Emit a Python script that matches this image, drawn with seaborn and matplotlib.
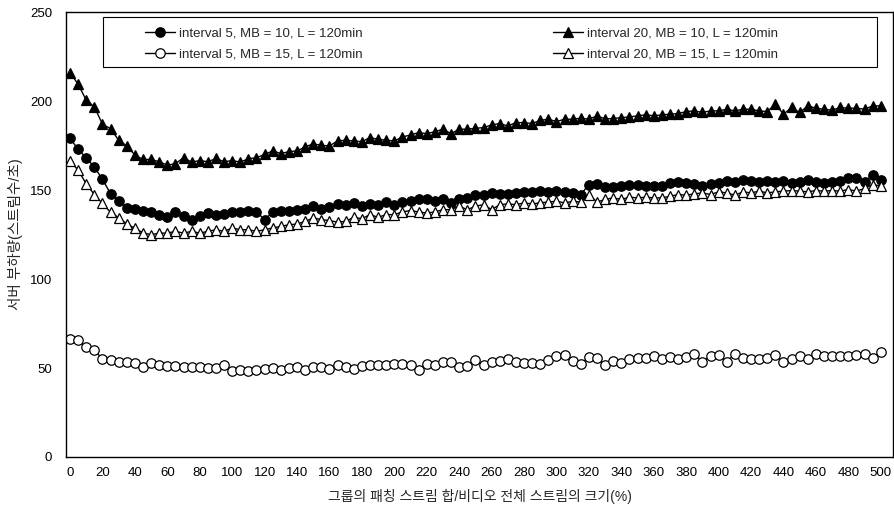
import numpy as np
import pandas as pd
import matplotlib
matplotlib.use("Agg")
import matplotlib.pyplot as plt
from matplotlib.patches import Rectangle
import seaborn as sns

# x axis: size of patching streams / whole video stream (%), one point every 5
x_pct = np.arange(0, 501, 5)

# interval 5, MB = 10, L = 120min (filled circles)
int5_mb10 = [179, 173, 168, 163, 156, 148, 144, 140, 139.5, 138.5,
             137.7, 136.2, 134.7, 137.5, 135.3, 133.4, 135.3, 137.1, 135.8, 136.6,
             137.7, 137.7, 138.5, 137.7, 133.4, 137.7, 138.1, 138.5, 139, 139.6,
             140.9, 139.6, 140.4, 142.4, 141.8, 142.8, 140.9, 142.2, 141.8, 143.3,
             141.8, 143.3, 144.1, 144.7, 144.7, 144.1, 144.7, 142.8, 144.7, 145.6,
             147.5, 147.1, 148.4, 147.9, 147.9, 148.4, 149, 149, 149.4, 149,
             149.7, 149, 148.4, 147.5, 153.1, 153.5, 151.5, 151.6, 152.2, 153.1,
             152.8, 152.2, 152.2, 152.2, 154.1, 154.6, 154.1, 153.5, 152.2, 153.5,
             154.1, 155, 154.6, 155.9, 155, 154.6, 155, 154.6, 155, 154.1,
             154.6, 155.4, 154.6, 154.1, 154.6, 155, 156.9, 156.5, 154.6, 158.7,
             155.9]

# interval 5, MB = 15, L = 120min (open circles)
int5_mb15 = [66.5, 65.6, 61.8, 59.9, 55.2, 54.3, 53.4, 53.4, 53, 50.6,
             53, 51.5, 51.1, 51.1, 50.6, 50.6, 50.6, 50, 50, 51.5,
             48.1, 48.6, 48.3, 48.6, 49.6, 50, 48.6, 50, 50.6, 48.6,
             50.6, 50.6, 49.6, 51.5, 50.6, 49.6, 51.1, 51.9, 51.9, 51.5,
             52.4, 52.4, 51.5, 48.6, 52, 51.5, 53.4, 53.4, 50.6, 51.1,
             54.3, 51.5, 53.4, 53.7, 54.8, 53.4, 53, 53, 52.4, 54.3,
             56.8, 57.1, 53.7, 52.4, 56.2, 55.6, 51.5, 53.7, 53, 55,
             55.4, 55.6, 56.8, 54.8, 56.2, 55.2, 56.2, 58.1, 53.4, 56.8,
             57.1, 53.4, 58.1, 55.6, 54.8, 55.2, 55.6, 57.1, 53.4, 55.2,
             56.8, 55.2, 58.1, 56.8, 56.8, 56.8, 56.8, 57.5, 58.1, 55.6,
             59]

# interval 20, MB = 10, L = 120min (filled triangles)
int20_mb10 = [216, 209.5, 200.5, 196.8, 187, 184.5, 178, 174.8, 169.7, 167.2,
              167.2, 165.9, 164, 164.8, 168.2, 165.7, 166.6, 165.9, 167.8, 165.9,
              166.6, 165.7, 167.6, 168.2, 170, 172, 170.5, 171.6, 172, 174.2,
              176, 175.1, 174.8, 177.6, 178, 177.6, 177.2, 179.5, 178.5, 178,
              177.6, 179.8, 181, 182.3, 181.7, 182.8, 184.2, 181.7, 184.2, 184.2,
              184.7, 185.1, 186.6, 187.4, 186, 187.9, 187.9, 187.4, 189.2, 189.8,
              188.5, 189.8, 189.8, 190.4, 189.8, 191.7, 190, 190.2, 190.7, 191.1,
              191.7, 192.3, 191.7, 192.3, 192.6, 193, 194.1, 194.5, 193.6, 194.5,
              194.5, 195.4, 194.5, 195.4, 195.4, 194.5, 194.1, 198.3, 192.6, 196.4,
              193.6, 197.3, 196, 195.4, 194.9, 196.4, 196, 196, 195.4, 197.3,
              197.3]

# interval 20, MB = 15, L = 120min (open triangles)
int20_mb15 = [166.3, 161.2, 153.5, 147.5, 142.5, 137.5, 134.5, 131, 128.5, 126,
              124.9, 125.8, 125.8, 126.8, 125.8, 126.8, 125.8, 126.8, 127.7, 126.8,
              128.7, 127.7, 127.7, 126.8, 127.7, 128.7, 129.6, 130.5, 130.9, 132.4,
              134.3, 133.4, 132.8, 132, 132.4, 134.7, 133.9, 136.2, 134.7, 136.2,
              136.2, 137.7, 138.5, 137.7, 137.1, 137.7, 139, 139, 140.9, 139,
              140.9, 141.8, 139, 141.8, 142.2, 141.8, 142.8, 142.2, 142.8, 143.3,
              143.7, 142.8, 143.7, 143.3, 147.5, 143.3, 144.7, 145.6, 144.7, 146,
              145.6, 146, 145.6, 145.6, 146.5, 147.5, 147.1, 147.9, 148.4, 147.5,
              149, 148.4, 147.1, 149, 148.4, 149.4, 148.4, 149, 149.4, 149.7,
              149.4, 149, 149.7, 149.4, 149.7, 149.4, 150.3, 149.4, 150.9, 153.1,
              152.2]

labels = ["interval 5, MB = 10, L = 120min",
          "interval 5, MB = 15, L = 120min",
          "interval 20, MB = 10, L = 120min",
          "interval 20, MB = 15, L = 120min"]

sns.set_style("white")
plt.rcParams['font.family'] = ['Liberation Sans', 'Noto Sans CJK KR']
plt.rcParams['axes.unicode_minus'] = False

fig = plt.figure(figsize=(8.95, 5.09), dpi=100)
ax = fig.add_axes([0.0737, 0.1022, 0.924, 0.874])

series = [int5_mb10, int5_mb15, int20_mb10, int20_mb15]
markers = ['o', 'o', '^', '^']
faces = ['black', 'white', 'black', 'white']
for vals, mk, fc, lab in zip(series, markers, faces, labels):
    sns.lineplot(x=x_pct, y=vals, ax=ax, color='black', lw=1.0,
                 marker=mk, markersize=6.8, markerfacecolor=fc,
                 markeredgecolor='black', markeredgewidth=0.9, label=lab)

ax.set_xlim(-2.5, 507.5)
ax.set_ylim(0, 250)
ax.set_xticks(np.arange(0, 501, 20))
ax.set_yticks(np.arange(0, 251, 50))
ax.tick_params(axis='both', length=0, labelsize=9.5, colors='black')
ax.tick_params(axis='y', pad=10)
ax.tick_params(axis='x', pad=7)
for sp in ax.spines.values():
    sp.set_visible(True)
    sp.set_color('black')
    sp.set_linewidth(1.0)

ax.set_xlabel('그룹의 패칭 스트림 합/비디오 전체 스트림의 크기(%)', fontsize=10, labelpad=7)
ax.set_ylabel('서버 부하량(스트림수/초)', fontsize=10.5, labelpad=5)

# legend box
ax.add_patch(Rectangle(((103 - 66) / 827, (457 - 67) / 445), 774 / 827, 50 / 445,
                       transform=ax.transAxes, fill=False, ec='black', lw=0.8,
                       zorder=5))
ax.legend(frameon=False, ncol=2, loc='upper left',
          bbox_to_anchor=((145 - 66) / 827, (457 - 27) / 445),
          borderaxespad=0, borderpad=0, fontsize=9.5, handlelength=2.3,
          handletextpad=0.3, columnspacing=14.4, labelspacing=0.65)

plt.savefig("out.png", dpi=100)
